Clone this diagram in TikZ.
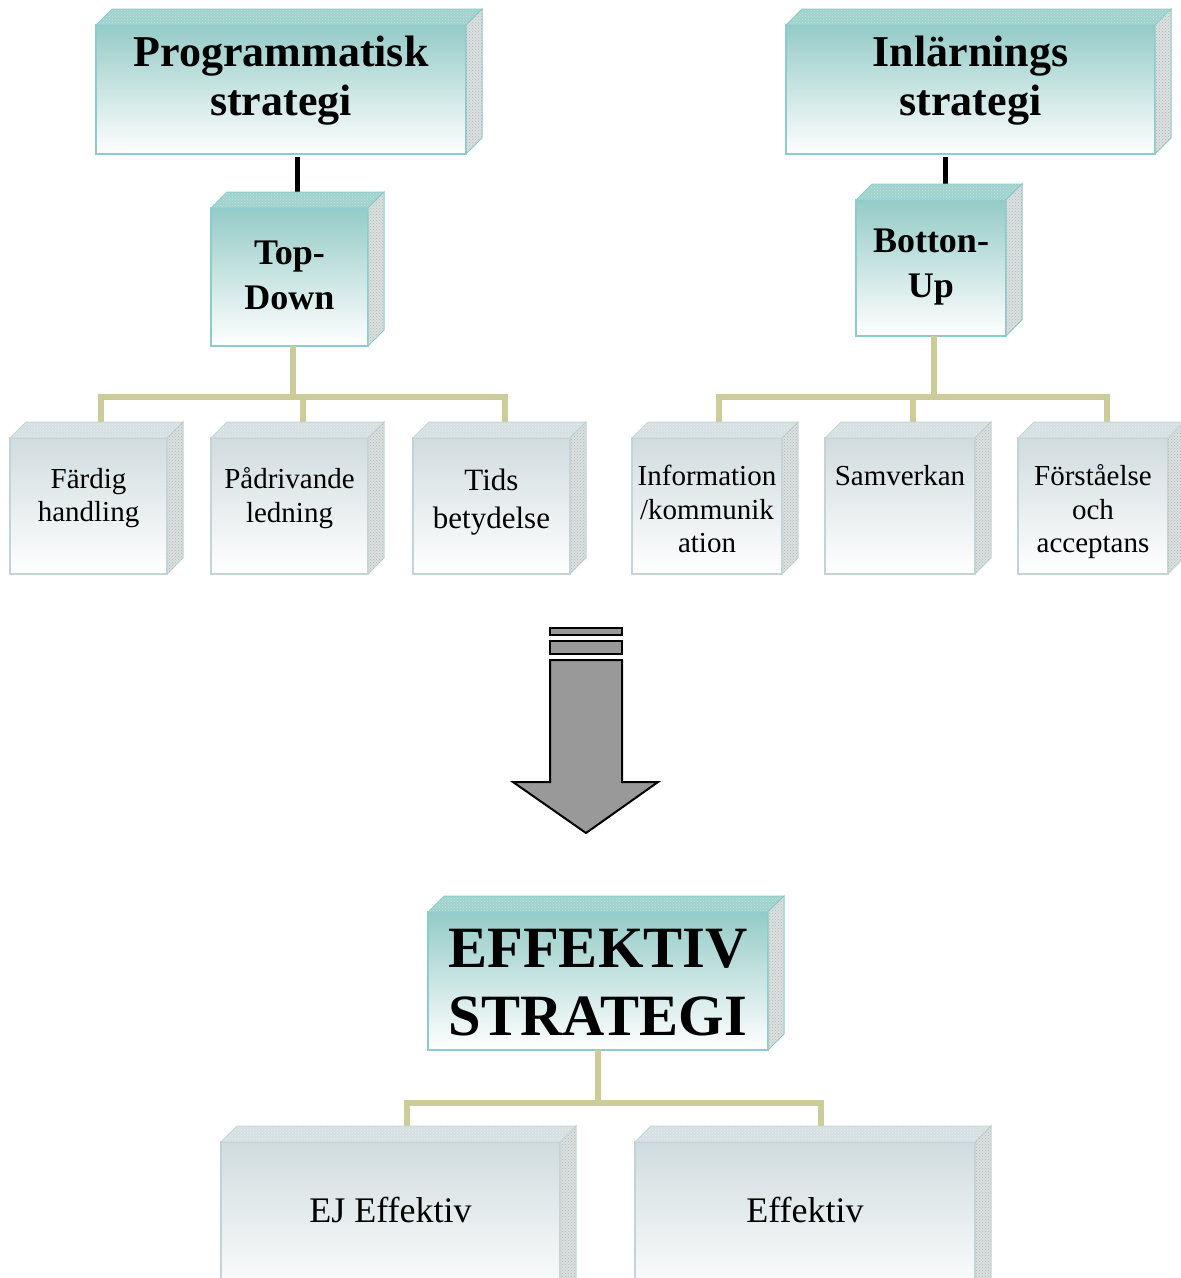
\documentclass[tikz,border=0pt]{standalone}
\usepackage{fontspec}
\setmainfont{Liberation Serif}
\usetikzlibrary{calc,patterns}
\definecolor{tealc}{RGB}{148,203,199}
\definecolor{tealtop}{RGB}{160,210,206}
\definecolor{tealbd}{RGB}{140,204,204}
\definecolor{leafc}{RGB}{208,220,223}
\definecolor{leaftop}{RGB}{214,224,226}
\definecolor{leafbd}{RGB}{196,212,214}
\definecolor{sidec}{RGB}{218,224,224}
\definecolor{khaki}{RGB}{204,204,153}
\definecolor{arrowc}{RGB}{153,153,153}
\newcommand\cubefaces[3]{%
  \path[#2] (#1.north west) -- ++(16,-16) -- ($(#1.north east)+(16,-16)$) -- (#1.north east) -- cycle;
  \path[#3] (#1.north east) -- ++(16,-16) -- ($(#1.south east)+(16,-16)$) -- (#1.south east) -- cycle;}
\begin{document}
\begin{tikzpicture}[x=1pt,y=-1pt,
  hbox/.style={draw=tealbd, line width=1.2pt, top color=tealc, bottom color=white, inner sep=0pt, outer sep=0pt, anchor=north west},
  lbox/.style={draw=leafbd, line width=1.2pt, top color=leafc, bottom color=white, inner sep=0pt, outer sep=0pt, anchor=north west},
  htop/.style={fill=tealtop, draw=tealbd, line width=1pt, postaction={pattern=crosshatch dots, pattern color=white, fill opacity=0.35}},
  ltop/.style={fill=leaftop, draw=leafbd, line width=1pt, postaction={pattern=crosshatch dots, pattern color=white, fill opacity=0.4}},
  hside/.style={fill=sidec, draw=tealbd, line width=1pt, postaction={pattern=crosshatch dots, pattern color=gray!80, fill opacity=0.6}},
  lside/.style={fill=sidec, draw=leafbd, line width=1pt, postaction={pattern=crosshatch dots, pattern color=gray!80, fill opacity=0.6}},
  txt/.style={align=center, inner sep=0pt, text=black},
  blk/.style={draw=black, line width=5pt, shorten <=3pt},
  kh/.style={draw=khaki, line width=6pt},
  arrowshape/.style={fill=arrowc, draw=black, line width=2pt, line join=miter}]
\useasboundingbox (0,0) rectangle (1181,1278);
\fill[white] (0,0) rectangle (1181,1278);
\clip (0,0) rectangle (1181,1278);

% main boxes
\node[hbox, minimum width=370pt, minimum height=129pt] (ps) at (96,25) {};
\node[hbox, minimum width=369pt, minimum height=129pt] (is) at (786,25) {};
\node[hbox, minimum width=157pt, minimum height=138pt] (td) at (211,208) {};
\node[hbox, minimum width=150pt, minimum height=136pt] (bu) at (856,200) {};
\node[hbox, minimum width=340pt, minimum height=138pt] (ef) at (428,912) {};

% leaf boxes
\node[lbox, minimum width=157pt, minimum height=136pt] (l1) at (10,438) {};
\node[lbox, minimum width=157pt, minimum height=136pt] (l2) at (211,438) {};
\node[lbox, minimum width=157pt, minimum height=136pt] (l3) at (413,438) {};
\node[lbox, minimum width=150pt, minimum height=136pt] (r1) at (632,438) {};
\node[lbox, minimum width=150pt, minimum height=136pt] (r2) at (825,438) {};
\node[lbox, minimum width=150pt, minimum height=136pt] (r3) at (1018,438) {};
\node[lbox, minimum width=339pt, minimum height=160pt] (b1) at (221,1142) {};
\node[lbox, minimum width=340pt, minimum height=160pt] (b2) at (635,1142) {};

% connectors
\coordinate (tdtop) at ([xshift=8pt]td.north);
\draw[blk] (tdtop |- ps.south) -- (tdtop);
\coordinate (butop) at ([xshift=14pt]bu.north);
\draw[blk] (butop |- is.south) -- (butop);

\coordinate (tdb) at ([xshift=3pt]td.south);
\draw[kh] (tdb) -- ++(0,51) -| ([xshift=12pt]l1.north);
\draw[kh] (tdb) -- ++(0,51) -| ([xshift=13pt]l2.north);
\draw[kh] (tdb) -- ++(0,51) -| ([xshift=13pt]l3.north);
\coordinate (bub) at ([xshift=3pt]bu.south);
\draw[kh] (bub) -- ++(0,61) -| ([xshift=12pt]r1.north);
\draw[kh] (bub) -- ++(0,61) -| ([xshift=13pt]r2.north);
\draw[kh] (bub) -- ++(0,61) -| ([xshift=14pt]r3.north);
\draw[kh] (ef.south) -- ++(0,53) -| ([xshift=16pt]b1.north);
\draw[kh] (ef.south) -- ++(0,53) -| ([xshift=16pt]b2.north);

% 3D faces
\cubefaces{ps}{htop}{hside}
\cubefaces{is}{htop}{hside}
\cubefaces{td}{htop}{hside}
\cubefaces{bu}{htop}{hside}
\cubefaces{ef}{htop}{hside}
\cubefaces{l1}{ltop}{lside}
\cubefaces{l2}{ltop}{lside}
\cubefaces{l3}{ltop}{lside}
\cubefaces{r1}{ltop}{lside}
\cubefaces{r2}{ltop}{lside}
\cubefaces{r3}{ltop}{lside}
\cubefaces{b1}{ltop}{lside}
\cubefaces{b2}{ltop}{lside}

% texts
\node[txt, font=\bfseries\fontsize{44}{49}\selectfont] (pst) at (281,81) {Programmatisk\\strategi};
\node[txt, font=\bfseries\fontsize{44}{49}\selectfont] (ist) at (970.5,81) {Inlärnings\\strategi};
\node[txt, font=\bfseries\fontsize{36}{45}\selectfont] (tdt) at (289.5,275) {Top-\\Down};
\node[txt, font=\bfseries\fontsize{36}{45}\selectfont] (but) at (931,267.5) {Botton-\\Up};
\node[txt, font=\fontsize{29}{33.5}\selectfont] (l1t) at (88.5,498) {Färdig\\handling};
\node[txt, font=\fontsize{29}{33.5}\selectfont] (l2t) at (289.5,498) {Pådrivande\\ledning};
\node[txt, font=\fontsize{31}{38}\selectfont] (l3t) at (491.5,502) {Tids\\betydelse};
\node[txt, font=\fontsize{29}{33.5}\selectfont] (r1t) at (707,509) {Information\\/kommunik\\ation};
\node[txt, font=\fontsize{29}{33.5}\selectfont] (r2t) at (900,476) {Samverkan};
\node[txt, font=\fontsize{29}{33.5}\selectfont] (r3t) at (1093,512) {Förståelse\\och\\acceptans};
\node[txt, font=\bfseries\fontsize{58.5}{68}\selectfont] (eft) at (598,983) {EFFEKTIV\\STRATEGI};
\node[txt, font=\fontsize{36}{43}\selectfont] (b1t) at (390.5,1210) {EJ Effektiv};
\node[txt, font=\fontsize{36}{43}\selectfont] (b2t) at (805,1210) {Effektiv};

% big arrow
\draw[arrowshape] (550,628) rectangle (622,635);
\draw[arrowshape] (550,641) rectangle (622,654);
\draw[arrowshape] (550,660) -- (622,660) -- (622,782) -- (658,782) -- (586,833) -- (513,782) -- (550,782) -- cycle;
\end{tikzpicture}
\end{document}
